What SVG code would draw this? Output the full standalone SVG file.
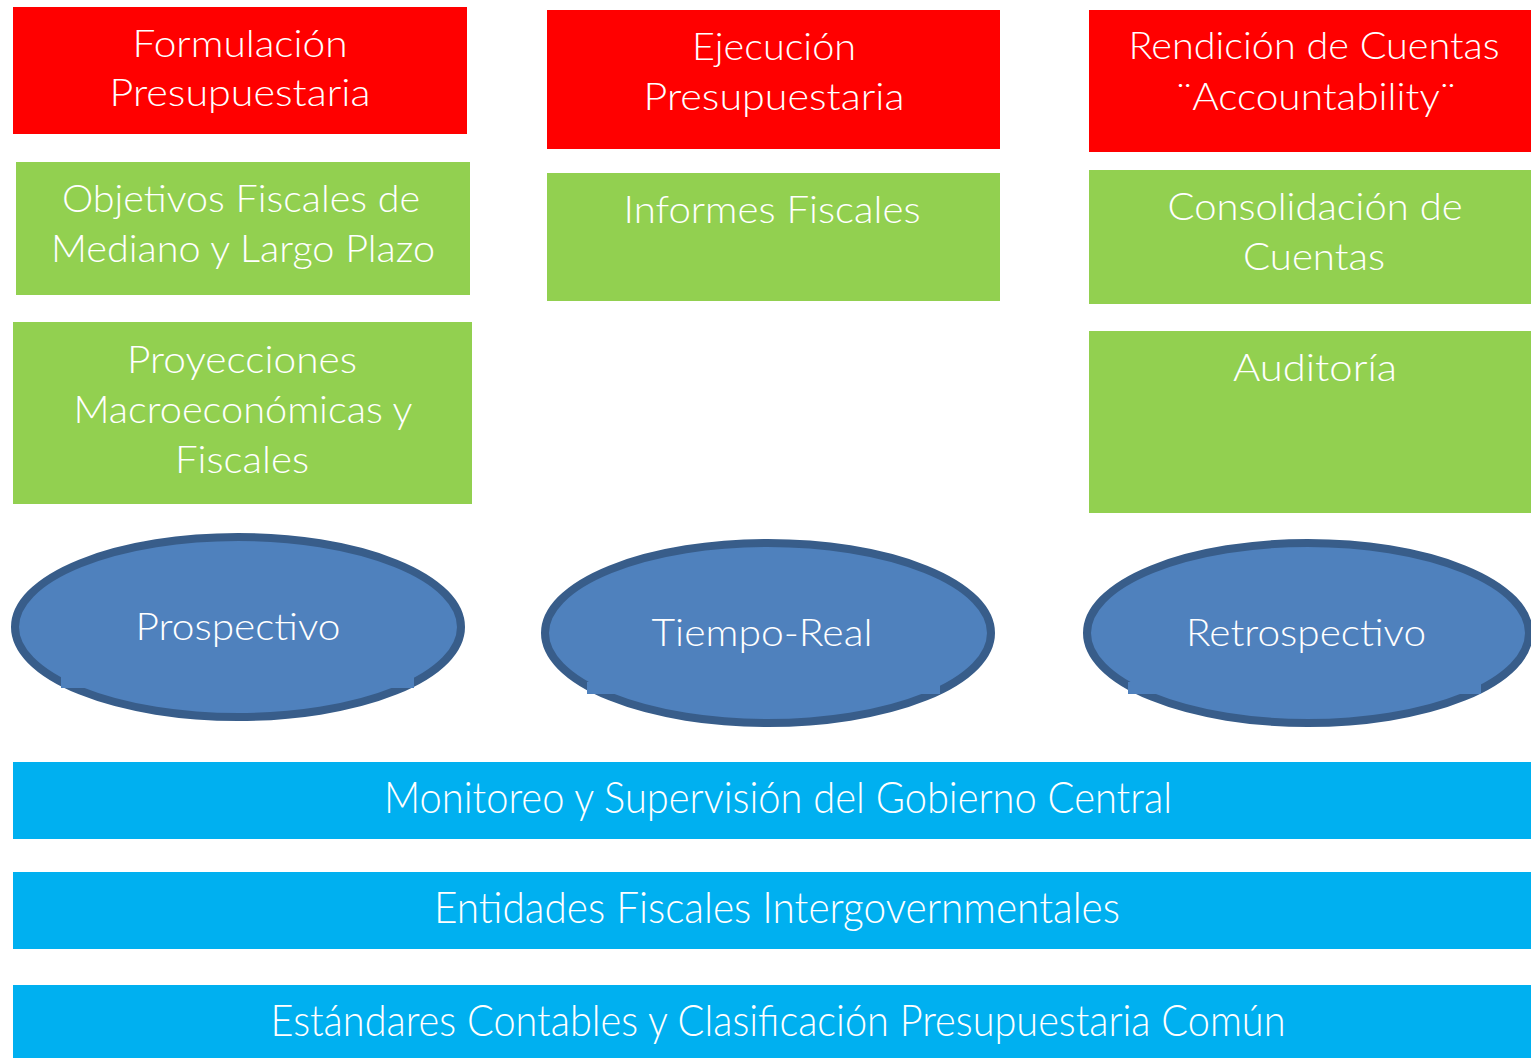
<svg xmlns="http://www.w3.org/2000/svg" width="1531" height="1058" viewBox="0 0 1531 1058">
<style>
.red{fill:#ff0000}
.green{fill:#92d050}
.bar{fill:#00b0f0}
.ell{fill:#4f81bd;stroke:#385d8a;stroke-width:8}
.patch{fill:#4f81bd}
text{font-family:Lato,"Open Sans","Liberation Sans",sans-serif;font-weight:300;fill:#ffffff;text-anchor:middle}
.t{font-size:38px}
.b{font-size:43px}
</style>
<rect width="1531" height="1058" fill="#ffffff"/>
<g id="formulacion"><rect class="red" x="13" y="7" width="454" height="127"/>
<text class="t" x="240" y="57" textLength="215" lengthAdjust="spacingAndGlyphs">Formulación</text>
<text class="t" x="240" y="106" textLength="261" lengthAdjust="spacingAndGlyphs">Presupuestaria</text></g>
<g id="ejecucion"><rect class="red" x="547" y="10" width="453" height="139"/>
<text class="t" x="774" y="60" textLength="164" lengthAdjust="spacingAndGlyphs">Ejecución</text>
<text class="t" x="774" y="110" textLength="261" lengthAdjust="spacingAndGlyphs">Presupuestaria</text></g>
<g id="rendicion"><rect class="red" x="1089" y="10" width="442" height="142"/>
<text class="t" x="1314" y="59" textLength="371" lengthAdjust="spacingAndGlyphs">Rendición de Cuentas</text>
<text class="t" x="1316" y="110" textLength="280" lengthAdjust="spacingAndGlyphs">¨Accountability¨</text></g>
<g id="objetivos"><rect class="green" x="16" y="162" width="454" height="133"/>
<text class="t" x="241" y="212" textLength="358" lengthAdjust="spacingAndGlyphs">Objetivos Fiscales de</text>
<text class="t" x="243" y="262" textLength="384" lengthAdjust="spacingAndGlyphs">Mediano y Largo Plazo</text></g>
<g id="informes"><rect class="green" x="547" y="173" width="453" height="128"/>
<text class="t" x="772" y="223" textLength="297" lengthAdjust="spacingAndGlyphs">Informes Fiscales</text></g>
<g id="consolidacion"><rect class="green" x="1089" y="170" width="442" height="134"/>
<text class="t" x="1315" y="220" textLength="295" lengthAdjust="spacingAndGlyphs">Consolidación de</text>
<text class="t" x="1314" y="270" textLength="142" lengthAdjust="spacingAndGlyphs">Cuentas</text></g>
<g id="proyecciones"><rect class="green" x="13" y="322" width="459" height="182"/>
<text class="t" x="242" y="373" textLength="230" lengthAdjust="spacingAndGlyphs">Proyecciones</text>
<text class="t" x="243" y="423" textLength="339" lengthAdjust="spacingAndGlyphs">Macroeconómicas y</text>
<text class="t" x="242" y="473" textLength="134" lengthAdjust="spacingAndGlyphs">Fiscales</text></g>
<g id="auditoria"><rect class="green" x="1089" y="331" width="442" height="182"/>
<text class="t" x="1315" y="381" textLength="164" lengthAdjust="spacingAndGlyphs">Auditoría</text></g>
<g id="prospectivo"><ellipse class="ell" cx="238" cy="627" rx="223" ry="90"/>
<rect class="patch" x="61" y="676" width="353" height="12"/>
<text class="t" x="238" y="640" textLength="205" lengthAdjust="spacingAndGlyphs">Prospectivo</text></g>
<g id="tiempo"><ellipse class="ell" cx="768" cy="633" rx="223" ry="90"/>
<rect class="patch" x="587" y="682" width="353" height="12"/>
<text class="t" x="762" y="646" textLength="221" lengthAdjust="spacingAndGlyphs">Tiempo-Real</text></g>
<g id="retrospectivo"><ellipse class="ell" cx="1308" cy="633" rx="221" ry="90"/>
<rect class="patch" x="1128" y="682" width="353" height="12"/>
<text class="t" x="1306" y="646" textLength="240" lengthAdjust="spacingAndGlyphs">Retrospectivo</text></g>
<g id="monitoreo"><rect class="bar" x="13" y="762" width="1518" height="77"/>
<text class="b" x="778" y="813" textLength="788" lengthAdjust="spacingAndGlyphs">Monitoreo y Supervisión del Gobierno Central</text></g>
<g id="entidades"><rect class="bar" x="13" y="872" width="1518" height="77"/>
<text class="b" x="777" y="923" textLength="686" lengthAdjust="spacingAndGlyphs">Entidades Fiscales Intergovernmentales</text></g>
<g id="estandares"><rect class="bar" x="13" y="985" width="1518" height="73"/>
<text class="b" x="778" y="1036" textLength="1015" lengthAdjust="spacingAndGlyphs">Estándares Contables y Clasificación Presupuestaria Común</text></g>
<g id="connectors"></g>
</svg>
